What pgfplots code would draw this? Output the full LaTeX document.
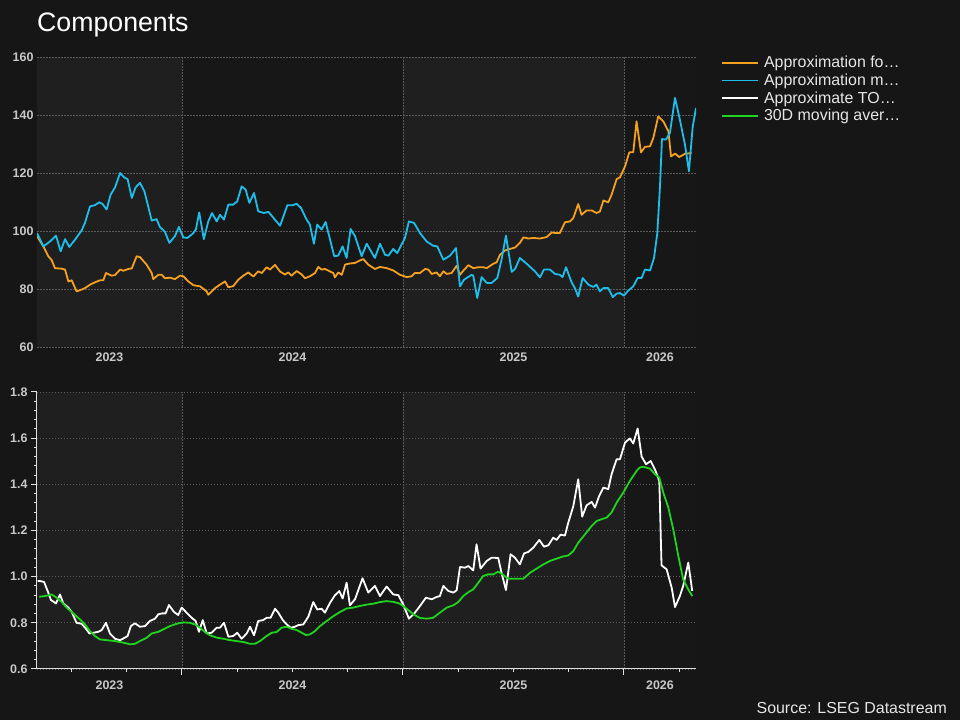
\documentclass[border=0pt]{standalone}
\usepackage{pgfplots}
\pgfplotsset{compat=1.18}
\usepackage{pgfplotstable}
\usepackage{fontspec}
\setmainfont{Liberation Sans}
\definecolor{bgc}{HTML}{161616}
\definecolor{bandlight}{HTML}{1F1F1F}
\definecolor{banddark}{HTML}{171717}
\definecolor{gridc}{HTML}{5A5A5A}
\definecolor{tickc}{HTML}{C8C8C8}
\definecolor{axc}{HTML}{E0E0E0}
\definecolor{orangec}{HTML}{F5A01E}
\definecolor{bluec}{HTML}{1EBEEB}
\definecolor{greenc}{HTML}{1ED41E}
\definecolor{legc}{HTML}{E6E6E6}

\pgfplotstableread{
x y
2023.344 98.2
2023.373 94.7
2023.395 91.3
2023.410 90.0
2023.425 87.2
2023.456 87.0
2023.471 86.7
2023.486 82.6
2023.501 83.0
2023.523 79.2
2023.546 79.8
2023.561 80.3
2023.584 81.5
2023.606 82.3
2023.629 83.0
2023.644 83.0
2023.656 85.5
2023.682 84.6
2023.697 84.8
2023.720 86.7
2023.735 86.3
2023.757 86.9
2023.773 87.1
2023.795 91.3
2023.810 91.0
2023.840 88.4
2023.863 85.5
2023.870 83.4
2023.893 84.9
2023.908 84.9
2023.923 83.7
2023.946 83.9
2023.968 83.4
2023.991 84.6
2024.006 84.4
2024.029 82.6
2024.052 81.3
2024.082 80.9
2024.112 79.2
2024.119 78.0
2024.149 80.3
2024.172 81.5
2024.195 82.6
2024.210 80.6
2024.232 81.0
2024.255 83.2
2024.278 84.6
2024.300 85.7
2024.323 84.3
2024.345 86.1
2024.361 85.5
2024.383 87.5
2024.398 86.7
2024.421 88.3
2024.444 86.0
2024.466 85.0
2024.481 85.7
2024.496 84.6
2024.519 86.2
2024.542 85.0
2024.557 83.7
2024.579 84.4
2024.602 85.5
2024.617 87.6
2024.632 86.7
2024.647 86.9
2024.685 85.5
2024.692 84.0
2024.707 85.7
2024.723 84.9
2024.738 88.4
2024.753 88.7
2024.783 89.0
2024.813 90.1
2024.821 90.3
2024.843 88.4
2024.873 86.9
2024.896 87.6
2024.926 87.2
2024.956 86.4
2024.986 84.9
2025.017 84.1
2025.039 84.4
2025.054 85.5
2025.077 85.5
2025.100 86.9
2025.115 86.7
2025.130 85.2
2025.152 85.7
2025.167 84.4
2025.183 86.1
2025.198 85.2
2025.220 85.5
2025.243 88.0
2025.258 84.9
2025.273 86.3
2025.296 88.2
2025.318 87.2
2025.341 87.5
2025.363 87.5
2025.379 87.2
2025.409 88.7
2025.424 89.2
2025.439 91.8
2025.462 93.3
2025.484 93.8
2025.507 94.3
2025.529 95.9
2025.545 97.8
2025.567 97.4
2025.590 97.6
2025.620 97.4
2025.650 97.9
2025.673 99.5
2025.688 99.3
2025.710 99.3
2025.733 103.0
2025.756 103.3
2025.771 104.5
2025.793 109.3
2025.808 105.6
2025.831 107.1
2025.854 107.1
2025.876 106.2
2025.891 106.7
2025.907 110.5
2025.929 109.9
2025.944 112.5
2025.967 117.9
2025.982 118.5
2026.005 122.3
2026.024 127.1
2026.042 127.2
2026.057 137.8
2026.077 127.1
2026.095 129.0
2026.118 129.2
2026.133 132.1
2026.155 139.5
2026.178 137.8
2026.201 134.4
2026.213 125.7
2026.231 126.7
2026.250 125.5
2026.276 126.6
2026.306 126.9
}\orangetab

\pgfplotstableread{
x y
2023.344 99.3
2023.373 94.7
2023.403 96.4
2023.430 98.4
2023.451 93.0
2023.471 97.2
2023.490 94.5
2023.516 97.0
2023.546 100.2
2023.561 102.8
2023.584 108.5
2023.606 108.9
2023.626 109.9
2023.641 109.3
2023.659 107.4
2023.677 112.5
2023.697 115.0
2023.720 120.0
2023.738 118.5
2023.754 117.9
2023.773 111.4
2023.790 115.0
2023.810 116.6
2023.830 113.7
2023.863 103.6
2023.885 104.1
2023.900 101.4
2023.923 99.7
2023.943 95.9
2023.968 98.2
2023.986 101.4
2024.006 97.8
2024.024 97.6
2024.048 99.0
2024.063 100.5
2024.078 106.4
2024.099 97.2
2024.119 103.3
2024.136 106.2
2024.157 103.3
2024.172 105.6
2024.190 103.9
2024.210 109.1
2024.232 109.1
2024.250 110.2
2024.270 115.4
2024.288 114.3
2024.305 109.7
2024.326 113.1
2024.345 106.8
2024.371 106.2
2024.391 106.6
2024.444 101.8
2024.477 108.9
2024.501 108.9
2024.519 109.4
2024.539 107.9
2024.564 103.9
2024.579 102.2
2024.597 95.6
2024.612 102.2
2024.632 100.5
2024.650 103.1
2024.689 91.3
2024.707 91.5
2024.727 94.7
2024.745 90.7
2024.763 100.7
2024.783 98.2
2024.813 91.3
2024.836 95.6
2024.873 90.7
2024.896 95.6
2024.919 91.8
2024.934 91.5
2024.956 93.8
2024.974 92.4
2025.009 97.6
2025.027 103.3
2025.050 102.8
2025.077 99.3
2025.107 96.4
2025.137 94.9
2025.155 94.7
2025.183 90.1
2025.213 91.5
2025.240 94.1
2025.258 80.9
2025.276 83.2
2025.311 84.9
2025.318 84.6
2025.336 76.9
2025.356 84.1
2025.379 82.1
2025.401 82.1
2025.427 83.8
2025.446 90.1
2025.466 98.4
2025.492 85.9
2025.507 86.9
2025.529 90.7
2025.560 88.7
2025.597 86.1
2025.620 84.0
2025.638 86.7
2025.665 86.7
2025.688 85.2
2025.710 84.9
2025.722 84.1
2025.738 87.5
2025.763 82.3
2025.778 80.3
2025.793 77.4
2025.813 83.8
2025.839 81.5
2025.861 80.7
2025.876 81.5
2025.891 79.2
2025.907 80.3
2025.929 80.3
2025.949 77.2
2025.967 78.4
2025.982 78.6
2026.000 77.7
2026.020 79.5
2026.042 80.9
2026.062 83.8
2026.080 83.8
2026.095 86.7
2026.118 86.4
2026.136 90.7
2026.151 99.3
2026.163 115.4
2026.172 131.7
2026.190 131.5
2026.208 133.8
2026.231 145.9
2026.253 138.4
2026.276 129.8
2026.294 120.6
2026.311 135.9
2026.326 142.4
}\bluetab

\pgfplotstableread{
x y
2023.347 0.981
2023.358 0.981
2023.376 0.977
2023.395 0.931
2023.407 0.899
2023.430 0.884
2023.448 0.923
2023.463 0.884
2023.486 0.866
2023.501 0.847
2023.523 0.800
2023.546 0.796
2023.566 0.774
2023.581 0.754
2023.599 0.757
2023.621 0.761
2023.637 0.769
2023.656 0.800
2023.674 0.754
2023.697 0.731
2023.720 0.725
2023.742 0.736
2023.754 0.743
2023.769 0.786
2023.787 0.798
2023.810 0.783
2023.833 0.786
2023.855 0.808
2023.878 0.818
2023.893 0.837
2023.911 0.841
2023.926 0.841
2023.941 0.877
2023.964 0.847
2023.983 0.834
2023.999 0.866
2024.021 0.844
2024.044 0.822
2024.062 0.808
2024.077 0.761
2024.094 0.812
2024.112 0.754
2024.134 0.757
2024.157 0.779
2024.172 0.779
2024.190 0.800
2024.210 0.740
2024.232 0.743
2024.250 0.757
2024.270 0.731
2024.293 0.754
2024.308 0.783
2024.326 0.746
2024.345 0.808
2024.368 0.812
2024.383 0.822
2024.401 0.822
2024.421 0.861
2024.436 0.844
2024.456 0.812
2024.474 0.793
2024.492 0.779
2024.511 0.783
2024.526 0.790
2024.549 0.793
2024.572 0.827
2024.594 0.890
2024.612 0.858
2024.632 0.861
2024.647 0.844
2024.670 0.887
2024.692 0.919
2024.712 0.938
2024.727 0.905
2024.745 0.974
2024.760 0.876
2024.783 0.902
2024.817 0.993
2024.843 0.931
2024.873 0.960
2024.896 0.916
2024.926 0.957
2024.956 0.923
2024.979 0.920
2025.001 0.880
2025.027 0.818
2025.054 0.844
2025.077 0.873
2025.104 0.909
2025.130 0.902
2025.152 0.912
2025.167 0.916
2025.183 0.960
2025.205 0.938
2025.228 0.931
2025.243 0.941
2025.258 1.042
2025.281 1.039
2025.296 1.046
2025.318 1.027
2025.333 1.140
2025.351 1.035
2025.379 1.068
2025.401 1.082
2025.431 1.081
2025.446 1.017
2025.466 0.942
2025.487 1.097
2025.507 1.082
2025.529 1.053
2025.548 1.101
2025.567 1.107
2025.590 1.126
2025.617 1.159
2025.638 1.130
2025.658 1.136
2025.680 1.169
2025.695 1.159
2025.713 1.182
2025.733 1.178
2025.748 1.234
2025.771 1.306
2025.793 1.422
2025.811 1.260
2025.831 1.309
2025.854 1.324
2025.869 1.299
2025.888 1.350
2025.907 1.386
2025.929 1.379
2025.944 1.444
2025.967 1.509
2025.982 1.509
2026.005 1.581
2026.027 1.599
2026.042 1.577
2026.062 1.642
2026.080 1.520
2026.100 1.487
2026.121 1.501
2026.140 1.465
2026.160 1.415
2026.170 1.049
2026.193 1.032
2026.216 0.952
2026.231 0.868
2026.253 0.916
2026.268 0.960
2026.291 1.061
2026.309 0.938
}\whitetab

\pgfplotstableread{
x y
2023.354 0.913
2023.380 0.916
2023.410 0.923
2023.433 0.909
2023.456 0.890
2023.478 0.866
2023.508 0.841
2023.538 0.815
2023.561 0.793
2023.584 0.764
2023.606 0.743
2023.629 0.728
2023.659 0.725
2023.697 0.721
2023.735 0.714
2023.765 0.707
2023.787 0.709
2023.810 0.721
2023.840 0.735
2023.863 0.754
2023.893 0.761
2023.916 0.772
2023.946 0.786
2023.976 0.796
2024.006 0.802
2024.036 0.800
2024.059 0.793
2024.082 0.779
2024.104 0.760
2024.127 0.746
2024.157 0.736
2024.187 0.731
2024.217 0.725
2024.247 0.721
2024.278 0.717
2024.308 0.709
2024.330 0.709
2024.353 0.721
2024.383 0.743
2024.406 0.757
2024.428 0.760
2024.451 0.779
2024.474 0.783
2024.496 0.774
2024.519 0.769
2024.542 0.757
2024.561 0.747
2024.579 0.750
2024.602 0.764
2024.625 0.786
2024.655 0.808
2024.685 0.829
2024.715 0.847
2024.745 0.862
2024.775 0.866
2024.805 0.873
2024.836 0.879
2024.866 0.883
2024.896 0.890
2024.926 0.894
2024.956 0.891
2024.986 0.883
2025.017 0.861
2025.047 0.837
2025.077 0.821
2025.107 0.818
2025.137 0.822
2025.167 0.844
2025.198 0.866
2025.228 0.876
2025.250 0.890
2025.273 0.916
2025.296 0.933
2025.318 0.945
2025.341 0.974
2025.363 1.003
2025.386 1.010
2025.409 1.010
2025.431 1.022
2025.454 1.007
2025.477 0.991
2025.514 0.991
2025.545 0.991
2025.575 1.017
2025.605 1.035
2025.635 1.053
2025.665 1.068
2025.695 1.078
2025.722 1.087
2025.748 1.092
2025.771 1.111
2025.793 1.147
2025.824 1.184
2025.854 1.220
2025.876 1.241
2025.899 1.249
2025.922 1.256
2025.944 1.278
2025.967 1.321
2025.997 1.364
2026.027 1.415
2026.057 1.458
2026.072 1.473
2026.087 1.476
2026.118 1.468
2026.140 1.444
2026.160 1.429
2026.178 1.364
2026.201 1.299
2026.223 1.205
2026.246 1.090
2026.268 0.988
2026.291 0.945
2026.309 0.916
}\greentab

\pgfplotsset{
  comp/.style={
    scale only axis, width=659bp,
    xmin=2023.344, xmax=2026.326,
    /pgf/number format/assume math mode=true,
    tick label style={font=\bfseries\fontsize{12.5}{14}\selectfont, text=tickc},
    xtick={2024,2025,2026}, xticklabels={,,},
    extra x ticks={2023.672,2024.5,2025.5,2026.163},
    extra x tick labels={2023,2024,2025,2026},
    extra x tick style={grid=none, major tick length=0pt},
    xmajorgrids, ymajorgrids,
    major grid style={draw=gridc, line width=0.7bp, dash pattern=on 1.5bp off 1.5bp},
    every axis plot/.append style={line width=1.8bp, line join=round},
  },
  legend image code/.code={\draw[#1, line width=1.8bp] (0bp,0bp) -- (36bp,0bp);},
}

\begin{document}
\begin{tikzpicture}
\fill[bgc] (0,0) rectangle (960bp,720bp);
% year bands behind both panels (x: 2024 -> 182bp, 2025 -> 403bp, 2026 -> 624bp)
\fill[bandlight] (37bp,373bp) rectangle (182bp,663bp);
\fill[banddark] (182bp,373bp) rectangle (403bp,663bp);
\fill[bandlight] (403bp,373bp) rectangle (624bp,663bp);
\fill[banddark] (624bp,373bp) rectangle (696bp,663bp);
\fill[bandlight] (37bp,51bp) rectangle (182bp,328bp);
\fill[banddark] (182bp,51bp) rectangle (403bp,328bp);
\fill[bandlight] (403bp,51bp) rectangle (624bp,328bp);
\fill[banddark] (624bp,51bp) rectangle (696bp,328bp);

\node[anchor=base west, text=white, font=\fontsize{26.8}{30}\selectfont, inner sep=0pt] at (37bp,688.3bp) {Components};
\node[anchor=base east, text=legc, font=\fontsize{16}{19}\selectfont, inner sep=0pt] at (947bp,7bp) {Source: LSEG Datastream};

% top panel
\begin{axis}[comp,
  at={(37bp,373bp)}, anchor=south west, height=290bp,
  ymin=60, ymax=160, ytick={60,80,100,120,140,160},
  axis line style={draw=none}, major tick length=0pt,
  every x tick label/.append style={yshift=-2bp},
  legend cell align=left,
  legend style={at={(rel axis cs:1,1)}, anchor=north west, xshift=25bp, yshift=2bp,
    draw=none, fill=none, text=legc, font=\fontsize{16}{18}\selectfont,
    inner sep=0pt, row sep=2.7bp, nodes={inner xsep=5bp, inner ysep=1bp}},
]
\addplot[draw=orangec] table[x=x,y=y] {\orangetab};
\addlegendentry{Approximation fo…}
\addplot[draw=bluec] table[x=x,y=y] {\bluetab};
\addlegendentry{Approximation m…}
\addlegendimage{draw=white}
\addlegendentry{Approximate TO…}
\addlegendimage{draw=greenc}
\addlegendentry{30D moving aver…}
\end{axis}

% bottom panel
\begin{axis}[comp,
  at={(37bp,51bp)}, anchor=south west, height=277bp,
  ymin=0.6, ymax=1.8, ytick={0.6,0.8,1.0,1.2,1.4,1.6,1.8},
  minor y tick num=4,
  minor xtick={2023.5,2023.75,2024.25,2024.5,2024.75,2025.25,2025.5,2025.75,2026.25},
  axis x line*=bottom, axis y line*=left,
  axis line style={draw=axc, line width=1bp, -},
  tick style={draw=axc, line width=1bp},
  tick align=outside, major tick length=6bp, minor tick length=3.5bp,
  every x tick label/.append style={yshift=-8bp},
  yticklabel style={/pgf/number format/.cd, fixed, fixed zerofill, precision=1},
]
\addplot[draw=white] table[x=x,y=y] {\whitetab};
\addplot[draw=greenc] table[x=x,y=y] {\greentab};
\end{axis}
\end{tikzpicture}
\end{document}
